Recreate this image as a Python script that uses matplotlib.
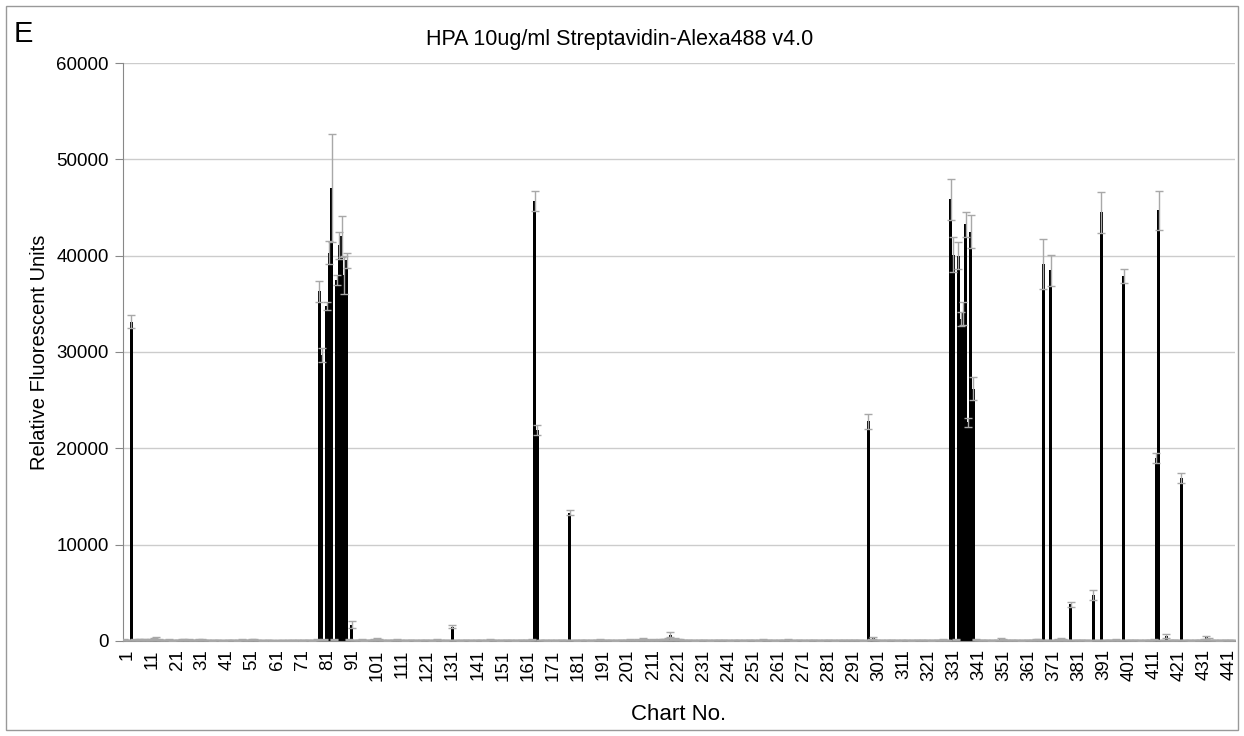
import numpy as np
import matplotlib.pyplot as plt
from matplotlib.patches import Rectangle
from matplotlib.transforms import ScaledTranslation

plt.rcParams['font.family'] = ['Liberation Sans', 'DejaVu Sans']

# mean relative fluorescent units, chart no. 1..444 (10 per row)
rfu = [
    120, 90, 110, 33150, 140, 100, 130, 180, 150, 110,          # 1
    140, 120, 200, 300, 160, 110, 90, 100, 120, 80,             # 11
    100, 110, 90, 130, 120, 100, 140, 110, 90, 100,             # 21
    120, 150, 110, 100, 90, 80, 100, 110, 90, 70,               # 31
    80, 90, 100, 110, 90, 80, 100, 120, 90, 100,                # 41
    110, 150, 130, 100, 90, 80, 70, 90, 100, 80,                # 51
    70, 80, 60, 90, 80, 70, 100, 90, 80, 100,                   # 61
    90, 80, 100, 110, 90, 80, 100, 120, 36300, 29700,           # 71
    150, 34800, 40300, 47000, 130, 37500, 41100, 42000, 38000, 39500,  # 81
    120, 1700, 110, 90, 100, 130, 80, 90, 110, 100,            # 91
    150, 220, 130, 90, 100, 80, 110, 100, 90, 120,              # 101
    110, 100, 80, 90, 100, 110, 90, 80, 100, 90,                # 111
    100, 110, 90, 80, 100, 120, 90, 100, 80, 90,                # 121
    110, 1500, 100, 90, 80, 100, 110, 90, 100, 80,              # 131
    90, 100, 110, 90, 80, 100, 120, 90, 100, 90,                # 141
    80, 100, 90, 110, 100, 90, 80, 100, 110, 90,                # 151
    100, 90, 110, 120, 45700, 21900, 110, 90, 100, 80,          # 161
    90, 100, 80, 90, 100, 110, 90, 100, 13300, 110,             # 171
    90, 80, 100, 90, 110, 100, 80, 90, 100, 110,                # 181
    120, 100, 90, 110, 100, 90, 80, 100, 110, 90,               # 191
    100, 110, 130, 90, 100, 120, 110, 200, 130, 100,            # 201
    90, 150, 110, 100, 130, 180, 120, 200, 650, 150,            # 211
    250, 180, 120, 100, 90, 110, 100, 90, 80, 100,              # 221
    90, 100, 110, 90, 80, 100, 90, 110, 100, 90,                # 231
    100, 90, 80, 100, 110, 90, 100, 80, 90, 100,                # 241
    110, 100, 90, 80, 100, 130, 110, 90, 100, 90,               # 251
    80, 100, 110, 90, 100, 120, 90, 80, 100, 110,               # 261
    90, 100, 80, 90, 110, 100, 90, 100, 80, 90,                 # 271
    100, 110, 90, 100, 80, 90, 100, 110, 90, 100,               # 281
    90, 100, 110, 90, 100, 80, 110, 22800, 120, 300,            # 291
    110, 90, 100, 80, 90, 100, 110, 90, 100, 80,                # 301
    90, 100, 110, 90, 80, 100, 90, 110, 100, 90,                # 311
    100, 90, 80, 100, 110, 90, 100, 120, 110, 100,              # 321
    45850, 40100, 150, 40000, 33400, 34000, 43250, 22700, 42500, 26200,  # 331
    120, 100, 90, 110, 100, 90, 80, 100, 110, 90,               # 341
    250, 150, 100, 90, 110, 100, 90, 100, 80, 90,               # 351
    100, 110, 90, 100, 150, 120, 100, 39100, 110, 100,          # 361
    38500, 110, 100, 120, 200, 130, 100, 110, 3800, 90,         # 371
    100, 90, 110, 100, 90, 80, 100, 4800, 110, 100,             # 381
    44500, 100, 90, 110, 100, 90, 120, 100, 110, 37900,         # 391
    100, 90, 110, 100, 90, 100, 80, 90, 100, 110,               # 401
    100, 120, 19000, 44700, 110, 90, 500, 100, 90, 110,         # 411
    100, 90, 16900, 110, 100, 90, 80, 100, 110, 90,             # 421
    100, 150, 400, 200, 110, 90, 100, 80, 90, 100,              # 431
    90, 110, 100, 90,                                           # 441
]

# standard deviation for each chart no.
rfu_err = [
    40, 30, 40, 700, 50, 40, 50, 60, 50, 40,
    50, 40, 60, 80, 50, 40, 30, 40, 40, 30,
    40, 40, 30, 50, 40, 40, 50, 40, 30, 40,
    40, 50, 40, 40, 30, 30, 40, 40, 30, 30,
    30, 30, 40, 40, 30, 30, 40, 40, 30, 40,
    40, 50, 50, 40, 30, 30, 30, 30, 40, 30,
    30, 30, 20, 30, 30, 30, 40, 30, 30, 40,
    30, 30, 40, 40, 30, 30, 40, 40, 1100, 700,
    50, 400, 1200, 5600, 50, 500, 1400, 2100, 2000, 800,
    40, 350, 40, 30, 40, 50, 30, 30, 40, 40,
    50, 70, 50, 30, 40, 30, 40, 40, 30, 40,
    40, 40, 30, 30, 40, 40, 30, 30, 40, 30,
    40, 40, 30, 30, 40, 40, 30, 40, 30, 30,
    40, 150, 40, 30, 30, 40, 40, 30, 40, 30,
    30, 40, 40, 30, 30, 40, 40, 30, 40, 30,
    30, 40, 30, 40, 40, 30, 30, 40, 40, 30,
    40, 30, 40, 40, 1050, 550, 40, 30, 40, 30,
    30, 40, 30, 30, 40, 40, 30, 40, 250, 40,
    30, 30, 40, 30, 40, 40, 30, 30, 40, 40,
    40, 40, 30, 40, 40, 30, 30, 40, 40, 30,
    40, 40, 50, 30, 40, 40, 40, 70, 50, 40,
    30, 50, 40, 40, 50, 60, 40, 70, 250, 50,
    80, 60, 40, 40, 30, 40, 40, 30, 30, 40,
    30, 40, 40, 30, 30, 40, 30, 40, 40, 30,
    40, 30, 30, 40, 40, 30, 40, 30, 30, 40,
    40, 40, 30, 30, 40, 50, 40, 30, 40, 30,
    30, 40, 40, 30, 40, 40, 30, 30, 40, 40,
    30, 40, 30, 30, 40, 40, 30, 40, 30, 30,
    40, 40, 30, 40, 30, 30, 40, 40, 30, 40,
    30, 40, 40, 30, 40, 30, 40, 800, 40, 100,
    40, 30, 40, 30, 30, 40, 40, 30, 40, 30,
    30, 40, 40, 30, 30, 40, 30, 40, 40, 30,
    40, 30, 30, 40, 40, 30, 40, 40, 40, 40,
    2100, 1800, 50, 1400, 700, 1200, 1300, 450, 1700, 1200,
    40, 40, 30, 40, 40, 30, 30, 40, 40, 30,
    100, 50, 40, 30, 40, 40, 30, 40, 30, 30,
    40, 40, 30, 40, 50, 40, 40, 2600, 40, 40,
    1600, 40, 40, 40, 100, 50, 40, 40, 250, 30,
    40, 30, 40, 40, 30, 30, 40, 500, 40, 40,
    2100, 40, 30, 40, 40, 30, 40, 40, 40, 700,
    40, 30, 40, 40, 30, 40, 30, 30, 40, 40,
    40, 40, 500, 2000, 40, 30, 200, 40, 30, 40,
    40, 30, 550, 40, 40, 30, 30, 40, 40, 30,
    40, 50, 150, 70, 40, 30, 40, 30, 30, 40,
    30, 40, 40, 30,
]

chart_no = np.arange(1, len(rfu) + 1)
tick_labels = [str(n) for n in range(1, 442, 10)]

fig = plt.figure(figsize=(12.44, 7.36), dpi=100)
ax = fig.add_axes([0.0986, 0.1291, 0.8942, 0.7853])

ax.bar(chart_no, rfu, width=1.2, color='black', linewidth=0, zorder=2)
ax.errorbar(
    chart_no, rfu, yerr=rfu_err,
    fmt='none', ecolor='#a8a8a8', elinewidth=1.0,
    capsize=2.8, capthick=1.0, zorder=3,
)

ax.set_xlim(0.5, len(rfu) + 0.5)
ax.set_ylim(0, 60000)
ax.set_yticks(np.arange(0, 60001, 10000))
ax.yaxis.grid(True, color='#cccccc', linewidth=1.0, zorder=0)
ax.set_axisbelow(True)

ax.set_xticks(np.arange(1, 442, 10))
ax.set_xticklabels(tick_labels, rotation=90, fontsize=13.5)
ax.tick_params(axis='x', length=0, pad=6)
ax.tick_params(axis='y', length=6, color='#888888', labelsize=13.5, pad=4)

# nudge the rotated labels a little to the right, as in the original
shift = ScaledTranslation(3 / 100, 0, fig.dpi_scale_trans)
for lbl in ax.get_xticklabels():
    lbl.set_transform(lbl.get_transform() + shift)

for side in ['top', 'right']:
    ax.spines[side].set_visible(False)
for side in ['left', 'bottom']:
    ax.spines[side].set_color('#888888')

ax.set_ylabel('Relative Fluorescent Units', fontsize=14.5, labelpad=5)
ax.set_xlabel('Chart No.', fontsize=16, labelpad=17)

fig.text(0.498, 0.9457, 'HPA 10ug/ml Streptavidin-Alexa488 v4.0',
         ha='center', va='center', fontsize=15.5)
fig.text(0.011, 0.943, 'E', ha='left', va='baseline', fontsize=21)

fig.patches.append(Rectangle(
    (0.0046, 0.008), 0.9908, 0.9842, transform=fig.transFigure,
    fill=False, edgecolor='#999999', linewidth=1.0,
))

fig.savefig('out.png', dpi=100)
